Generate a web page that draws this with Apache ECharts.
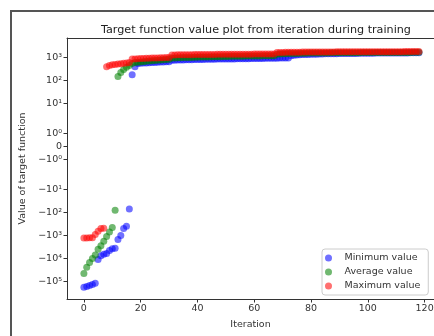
<!DOCTYPE html>
<html>
<head>
<meta charset="utf-8">
<script src="https://cdn.jsdelivr.net/npm/echarts@6/dist/echarts.min.js"></script>
<style>
  html, body { margin: 0; padding: 0; background: #fff; }
  #chart { width: 434px; height: 336px; }
</style>
</head>
<body>
<div id="chart"></div>
<script>
// iteration tick labels
const xTicks = [0, 20, 40, 60, 80, 100, 120]

// symlog tick values and their labels
const yTickValues = [1000, 100, 10, 1, 0, -1, -10, -100, -1000, -10000, -100000]
const yTickLabels = ['10³', '10²', '10¹', '10⁰', '0', '−10⁰', '−10¹', '−10²', '−10³', '−10⁴', '−10⁵']

// one value per iteration, starting at iteration 0
const minValue = [
  -180000, -165000, -150000, -135000, -120000,
  -11000, -7500, -6500, -6000, -4500, -3800, -3600, -1500, -1000, -500, -400, -70,
  180, 400,
  550, 560, 570, 580, 590, 600, 610, 620, 630, 640, 650, 660,
  750, 760, 770, 780, 780, 790, 800, 800, 810, 810,
  820, 820, 830, 830, 840, 840, 850, 850, 850, 860,
  860, 870, 870, 880, 880, 880, 890, 890, 900, 900,
  900, 910, 910, 920, 920, 920, 930, 930, 940, 940,
  950, 950,
  1200, 1250, 1300, 1320, 1340, 1350, 1360, 1380, 1400, 1400,
  1420, 1430, 1440, 1450, 1450, 1460, 1470, 1480, 1480, 1490,
  1500, 1500, 1510, 1510, 1520, 1520, 1530, 1530, 1540, 1540,
  1550, 1550, 1550, 1560, 1560, 1560, 1570, 1570, 1570, 1580,
  1580, 1580, 1590, 1590, 1590, 1600
]

const avgValue = [
  -45000, -24000, -15000, -10000, -7000, -4000, -2800, -1800, -1100, -700, -450, -80,
  150, 220, 300, 380, 450, 550,
  600, 620, 640, 660, 680, 700, 720, 740, 760, 780, 800, 820, 840,
  950, 960, 970, 980, 990, 1000, 1000, 1010, 1020, 1030,
  1040, 1040, 1050, 1060, 1070, 1080, 1080, 1090, 1100, 1100,
  1110, 1120, 1120, 1130, 1140, 1140, 1150, 1150, 1160, 1160,
  1170, 1170, 1180, 1180, 1190, 1190, 1200,
  1400, 1420, 1440, 1460, 1480, 1490, 1500, 1510, 1520, 1530,
  1540, 1550, 1550, 1560, 1560, 1570, 1570, 1580, 1580, 1590,
  1590, 1600, 1600, 1600, 1610, 1610, 1610, 1620, 1620, 1620,
  1630, 1630, 1630, 1640, 1640, 1640, 1650, 1650, 1650, 1650,
  1660, 1660, 1660, 1660, 1670, 1670, 1670, 1670, 1680, 1680,
  1680
]

const maxValue = [
  -1300, -1300, -1250, -1250, -900, -650, -500, -480,
  400, 450, 480, 500, 520, 540, 560, 580, 600,
  850, 870, 890, 900, 910, 920, 930, 940, 950, 960, 970, 980, 990, 1000,
  1300, 1300, 1310, 1310, 1320, 1320, 1330, 1330, 1340, 1340,
  1350, 1350, 1350, 1360, 1360, 1360, 1370, 1370, 1370, 1380,
  1380, 1380, 1390, 1390, 1390, 1400, 1400, 1400, 1400, 1410,
  1410, 1410, 1420, 1420, 1420, 1430, 1430,
  1650, 1660, 1670, 1680, 1690, 1700, 1700, 1710, 1710, 1720,
  1720, 1730, 1730, 1730, 1740, 1740, 1740, 1750, 1750, 1750,
  1750, 1760, 1760, 1760, 1760, 1770, 1770, 1770, 1770, 1780,
  1780, 1780, 1780, 1780, 1790, 1790, 1790, 1790, 1790, 1800,
  1800, 1800, 1800, 1800, 1800, 1810, 1810, 1810, 1810, 1810,
  1820
]

// symmetric log scale: linear inside [-1, 1], log outside
const LIN = 13
const FIRST = 30
const DEC = 23
function symlog(v) {
  const a = Math.abs(v)
  let t
  if (a <= 1) t = a * LIN
  else {
    const d = Math.log10(a)
    t = LIN + Math.min(d, 1) * FIRST + Math.max(d - 1, 0) * DEC
  }
  return v < 0 ? -t : t
}

function toPoints(values) {
  return values.map((v, i) => [i, symlog(v)])
}

const font = 'DejaVu Sans'
const textColor = '#333'

const chart = echarts.init(document.getElementById('chart'), null, { renderer: 'canvas' })

const seriesDefs = [
  { name: 'Minimum value', values: minValue, color: 'rgba(0, 0, 255, 0.7)' },
  { name: 'Average value', values: avgValue, color: 'rgba(0, 128, 0, 0.7)' },
  { name: 'Maximum value', values: maxValue, color: 'rgba(255, 0, 0, 0.7)' }
]

// the plot frame runs past the right edge of the picture, so only
// the top line is drawn, by a second x axis
chart.setOption({
  animation: false,
  backgroundColor: '#fff',
  title: {
    text: 'Target function value plot from iteration during training',
    left: 251,
    textAlign: 'center',
    top: 20,
    textStyle: { fontFamily: font, fontSize: 11.2, fontWeight: 'normal', color: '#222' }
  },
  graphic: [
    {
      type: 'rect',
      shape: { x: 11, y: 11, width: 600, height: 500 },
      style: { fill: 'none', stroke: '#555', lineWidth: 2 },
      silent: true
    }
  ],
  grid: {
    left: 67,
    top: 38,
    right: 0,
    bottom: 37,
    containLabel: false,
    outerBoundsMode: 'none'
  },
  legend: {
    orient: 'vertical',
    left: 322,
    top: 249,
    icon: 'circle',
    itemWidth: 22,
    itemHeight: 7,
    itemGap: 4,
    padding: [4, 8, 4, 3],
    backgroundColor: 'rgba(255,255,255,0.85)',
    borderColor: '#ccc',
    borderWidth: 1,
    borderRadius: 3,
    textStyle: { fontFamily: font, fontSize: 9.5, color: textColor },
    data: seriesDefs.map(s => s.name)
  },
  xAxis: [
    {
      type: 'value',
      min: -5.95,
      max: 123.3,
      name: 'Iteration',
      nameLocation: 'middle',
      nameGap: 21,
      nameTextStyle: { fontFamily: font, fontSize: 9.5, color: textColor },
      axisLine: { onZero: false, lineStyle: { color: '#333', width: 1 } },
      axisTick: { customValues: xTicks, length: 3.5, lineStyle: { color: '#333' } },
      axisLabel: { customValues: xTicks, fontFamily: font, fontSize: 9.5, color: textColor, margin: 5 },
      splitLine: { show: false }
    },
    {
      type: 'value',
      position: 'top',
      min: -5.95,
      max: 123.3,
      axisLine: { show: true, onZero: false, lineStyle: { color: '#333', width: 1 } },
      axisTick: { show: false },
      axisLabel: { show: false },
      splitLine: { show: false }
    }
  ],
  yAxis: {
    type: 'value',
    min: -152.5,
    max: 108.5,
    name: 'Value of target function',
    nameLocation: 'middle',
    nameRotate: 90,
    nameGap: 35,
    nameTextStyle: { fontFamily: font, fontSize: 9.5, color: textColor },
    axisLine: { show: true, onZero: false, lineStyle: { color: '#333', width: 1 } },
    axisTick: { show: true, customValues: yTickValues.map(symlog), length: 3.5, lineStyle: { color: '#333' } },
    axisLabel: {
      customValues: yTickValues.map(symlog),
      fontFamily: font,
      fontSize: 9.5,
      color: textColor,
      margin: 5,
      formatter: (val) => {
        const i = yTickValues.findIndex(t => Math.abs(symlog(t) - val) < 0.01)
        return i >= 0 ? yTickLabels[i] : ''
      }
    },
    splitLine: { show: false }
  },
  series: seriesDefs.map(s => ({
    name: s.name,
    type: 'scatter',
    symbolSize: 7,
    itemStyle: { color: s.color },
    data: toPoints(s.values)
  }))
})
</script>
</body>
</html>
